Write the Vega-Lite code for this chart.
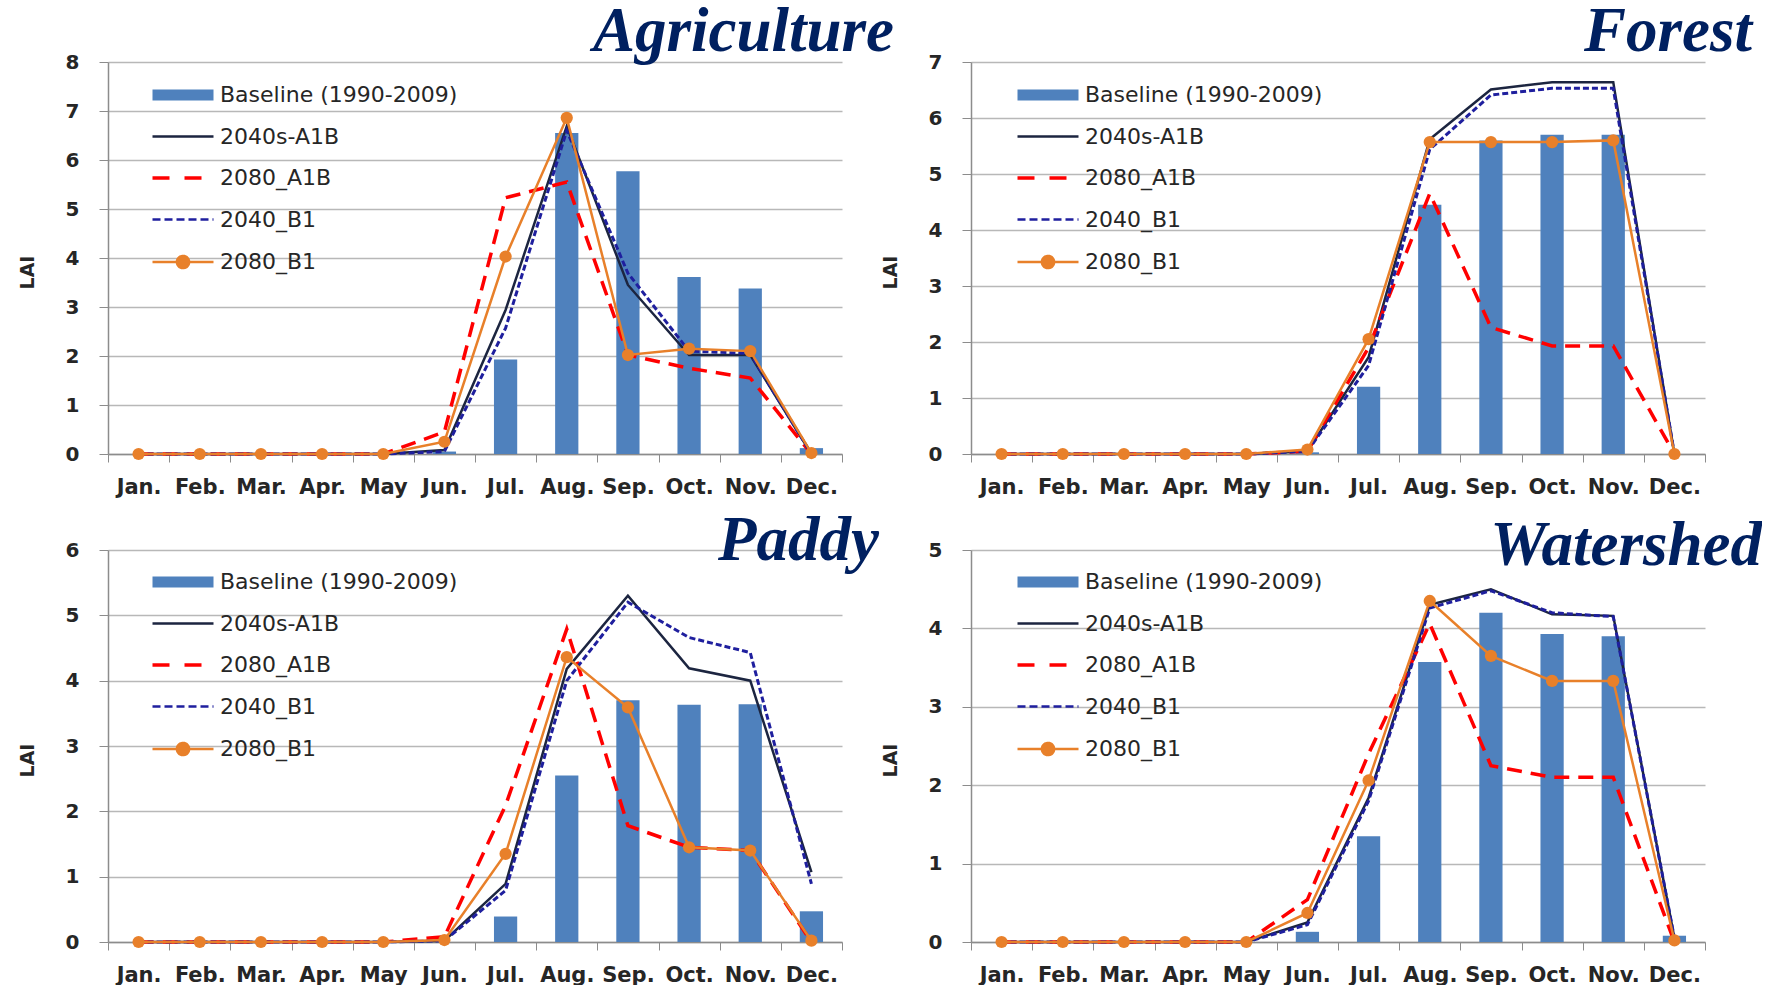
{
  "$schema": "https://vega.github.io/schema/vega-lite/v6.json",
  "background": "white",
  "autosize": {"type": "pad"},
  "padding": {"left": 18, "top": 1, "right": 0, "bottom": 0},
  "config": {
    "view": {"stroke": null},
    "font": "DejaVu Sans",
    "axis": {
      "labelFont": "DejaVu Sans", "labelFontWeight": "bold", "labelFontSize": 20, "labelColor": "#262626",
      "domainColor": "#8c8c8c", "tickColor": "#8c8c8c", "gridColor": "#b8b8b8", "gridWidth": 1.5,
      "titleFont": "DejaVu Sans", "titleFontWeight": "bold", "titleFontSize": 19, "titleColor": "#262626"
    },
    "axisX": {"grid": false, "tickSize": 8, "labelPadding": 14, "domainWidth": 1.5, "labelAngle": 0, "labelOverlap": false, "labelFontSize": 21, "title": null},
    "axisY": {"grid": true, "tickSize": 9, "labelPadding": 20, "domainWidth": 1.5, "titlePadding": 28, "titleY": 210},
    "legend": {"padding": 0, "labelFont": "DejaVu Sans", "labelFontSize": 22, "labelColor": "#262626", "labelLimit": 400, "symbolSize": 3721, "symbolType": "stroke", "rowPadding": 19.5, "labelOffset": 26, "symbolOffset": 21, "symbolStrokeWidth": 2.5},
    "title": {"font": "Liberation Serif", "fontSize": 63, "fontStyle": "italic", "fontWeight": "bold", "color": "#002060", "anchor": "end", "frame": "group", "baseline": "alphabetic", "offset": 0}
  },
  "data": {"values": [
    {"panel":"Agriculture","series":"Baseline (1990-2009)","month":"Jan.","lai":0},{"panel":"Agriculture","series":"Baseline (1990-2009)","month":"Feb.","lai":0},{"panel":"Agriculture","series":"Baseline (1990-2009)","month":"Mar.","lai":0},{"panel":"Agriculture","series":"Baseline (1990-2009)","month":"Apr.","lai":0},{"panel":"Agriculture","series":"Baseline (1990-2009)","month":"May","lai":0},{"panel":"Agriculture","series":"Baseline (1990-2009)","month":"Jun.","lai":0.05},{"panel":"Agriculture","series":"Baseline (1990-2009)","month":"Jul.","lai":1.93},{"panel":"Agriculture","series":"Baseline (1990-2009)","month":"Aug.","lai":6.55},{"panel":"Agriculture","series":"Baseline (1990-2009)","month":"Sep.","lai":5.77},{"panel":"Agriculture","series":"Baseline (1990-2009)","month":"Oct.","lai":3.61},{"panel":"Agriculture","series":"Baseline (1990-2009)","month":"Nov.","lai":3.38},{"panel":"Agriculture","series":"Baseline (1990-2009)","month":"Dec.","lai":0.12},
    {"panel":"Agriculture","series":"2040s-A1B","month":"Jan.","lai":0},{"panel":"Agriculture","series":"2040s-A1B","month":"Feb.","lai":0},{"panel":"Agriculture","series":"2040s-A1B","month":"Mar.","lai":0},{"panel":"Agriculture","series":"2040s-A1B","month":"Apr.","lai":0},{"panel":"Agriculture","series":"2040s-A1B","month":"May","lai":0},{"panel":"Agriculture","series":"2040s-A1B","month":"Jun.","lai":0.08},{"panel":"Agriculture","series":"2040s-A1B","month":"Jul.","lai":2.94},{"panel":"Agriculture","series":"2040s-A1B","month":"Aug.","lai":6.69},{"panel":"Agriculture","series":"2040s-A1B","month":"Sep.","lai":3.45},{"panel":"Agriculture","series":"2040s-A1B","month":"Oct.","lai":2.02},{"panel":"Agriculture","series":"2040s-A1B","month":"Nov.","lai":2.02},{"panel":"Agriculture","series":"2040s-A1B","month":"Dec.","lai":0},
    {"panel":"Agriculture","series":"2080_A1B","month":"Jan.","lai":0},{"panel":"Agriculture","series":"2080_A1B","month":"Feb.","lai":0},{"panel":"Agriculture","series":"2080_A1B","month":"Mar.","lai":0},{"panel":"Agriculture","series":"2080_A1B","month":"Apr.","lai":0},{"panel":"Agriculture","series":"2080_A1B","month":"May","lai":0},{"panel":"Agriculture","series":"2080_A1B","month":"Jun.","lai":0.45},{"panel":"Agriculture","series":"2080_A1B","month":"Jul.","lai":5.23},{"panel":"Agriculture","series":"2080_A1B","month":"Aug.","lai":5.55},{"panel":"Agriculture","series":"2080_A1B","month":"Sep.","lai":2.02},{"panel":"Agriculture","series":"2080_A1B","month":"Oct.","lai":1.75},{"panel":"Agriculture","series":"2080_A1B","month":"Nov.","lai":1.55},{"panel":"Agriculture","series":"2080_A1B","month":"Dec.","lai":0},
    {"panel":"Agriculture","series":"2040_B1","month":"Jan.","lai":0},{"panel":"Agriculture","series":"2040_B1","month":"Feb.","lai":0},{"panel":"Agriculture","series":"2040_B1","month":"Mar.","lai":0},{"panel":"Agriculture","series":"2040_B1","month":"Apr.","lai":0},{"panel":"Agriculture","series":"2040_B1","month":"May","lai":0},{"panel":"Agriculture","series":"2040_B1","month":"Jun.","lai":0.05},{"panel":"Agriculture","series":"2040_B1","month":"Jul.","lai":2.57},{"panel":"Agriculture","series":"2040_B1","month":"Aug.","lai":6.6},{"panel":"Agriculture","series":"2040_B1","month":"Sep.","lai":3.69},{"panel":"Agriculture","series":"2040_B1","month":"Oct.","lai":2.1},{"panel":"Agriculture","series":"2040_B1","month":"Nov.","lai":2.05},{"panel":"Agriculture","series":"2040_B1","month":"Dec.","lai":0},
    {"panel":"Agriculture","series":"2080_B1","month":"Jan.","lai":0},{"panel":"Agriculture","series":"2080_B1","month":"Feb.","lai":0},{"panel":"Agriculture","series":"2080_B1","month":"Mar.","lai":0},{"panel":"Agriculture","series":"2080_B1","month":"Apr.","lai":0},{"panel":"Agriculture","series":"2080_B1","month":"May","lai":0},{"panel":"Agriculture","series":"2080_B1","month":"Jun.","lai":0.25},{"panel":"Agriculture","series":"2080_B1","month":"Jul.","lai":4.03},{"panel":"Agriculture","series":"2080_B1","month":"Aug.","lai":6.86},{"panel":"Agriculture","series":"2080_B1","month":"Sep.","lai":2.02},{"panel":"Agriculture","series":"2080_B1","month":"Oct.","lai":2.15},{"panel":"Agriculture","series":"2080_B1","month":"Nov.","lai":2.1},{"panel":"Agriculture","series":"2080_B1","month":"Dec.","lai":0.02},

    {"panel":"Forest","series":"Baseline (1990-2009)","month":"Jan.","lai":0},{"panel":"Forest","series":"Baseline (1990-2009)","month":"Feb.","lai":0},{"panel":"Forest","series":"Baseline (1990-2009)","month":"Mar.","lai":0},{"panel":"Forest","series":"Baseline (1990-2009)","month":"Apr.","lai":0},{"panel":"Forest","series":"Baseline (1990-2009)","month":"May","lai":0},{"panel":"Forest","series":"Baseline (1990-2009)","month":"Jun.","lai":0.03},{"panel":"Forest","series":"Baseline (1990-2009)","month":"Jul.","lai":1.2},{"panel":"Forest","series":"Baseline (1990-2009)","month":"Aug.","lai":4.45},{"panel":"Forest","series":"Baseline (1990-2009)","month":"Sep.","lai":5.6},{"panel":"Forest","series":"Baseline (1990-2009)","month":"Oct.","lai":5.7},{"panel":"Forest","series":"Baseline (1990-2009)","month":"Nov.","lai":5.7},{"panel":"Forest","series":"Baseline (1990-2009)","month":"Dec.","lai":0},
    {"panel":"Forest","series":"2040s-A1B","month":"Jan.","lai":0},{"panel":"Forest","series":"2040s-A1B","month":"Feb.","lai":0},{"panel":"Forest","series":"2040s-A1B","month":"Mar.","lai":0},{"panel":"Forest","series":"2040s-A1B","month":"Apr.","lai":0},{"panel":"Forest","series":"2040s-A1B","month":"May","lai":0},{"panel":"Forest","series":"2040s-A1B","month":"Jun.","lai":0.05},{"panel":"Forest","series":"2040s-A1B","month":"Jul.","lai":1.73},{"panel":"Forest","series":"2040s-A1B","month":"Aug.","lai":5.62},{"panel":"Forest","series":"2040s-A1B","month":"Sep.","lai":6.51},{"panel":"Forest","series":"2040s-A1B","month":"Oct.","lai":6.64},{"panel":"Forest","series":"2040s-A1B","month":"Nov.","lai":6.64},{"panel":"Forest","series":"2040s-A1B","month":"Dec.","lai":0},
    {"panel":"Forest","series":"2080_A1B","month":"Jan.","lai":0},{"panel":"Forest","series":"2080_A1B","month":"Feb.","lai":0},{"panel":"Forest","series":"2080_A1B","month":"Mar.","lai":0},{"panel":"Forest","series":"2080_A1B","month":"Apr.","lai":0},{"panel":"Forest","series":"2080_A1B","month":"May","lai":0},{"panel":"Forest","series":"2080_A1B","month":"Jun.","lai":0.05},{"panel":"Forest","series":"2080_A1B","month":"Jul.","lai":1.9},{"panel":"Forest","series":"2080_A1B","month":"Aug.","lai":4.65},{"panel":"Forest","series":"2080_A1B","month":"Sep.","lai":2.26},{"panel":"Forest","series":"2080_A1B","month":"Oct.","lai":1.93},{"panel":"Forest","series":"2080_A1B","month":"Nov.","lai":1.93},{"panel":"Forest","series":"2080_A1B","month":"Dec.","lai":0},
    {"panel":"Forest","series":"2040_B1","month":"Jan.","lai":0},{"panel":"Forest","series":"2040_B1","month":"Feb.","lai":0},{"panel":"Forest","series":"2040_B1","month":"Mar.","lai":0},{"panel":"Forest","series":"2040_B1","month":"Apr.","lai":0},{"panel":"Forest","series":"2040_B1","month":"May","lai":0},{"panel":"Forest","series":"2040_B1","month":"Jun.","lai":0.05},{"panel":"Forest","series":"2040_B1","month":"Jul.","lai":1.58},{"panel":"Forest","series":"2040_B1","month":"Aug.","lai":5.44},{"panel":"Forest","series":"2040_B1","month":"Sep.","lai":6.41},{"panel":"Forest","series":"2040_B1","month":"Oct.","lai":6.53},{"panel":"Forest","series":"2040_B1","month":"Nov.","lai":6.53},{"panel":"Forest","series":"2040_B1","month":"Dec.","lai":0},
    {"panel":"Forest","series":"2080_B1","month":"Jan.","lai":0},{"panel":"Forest","series":"2080_B1","month":"Feb.","lai":0},{"panel":"Forest","series":"2080_B1","month":"Mar.","lai":0},{"panel":"Forest","series":"2080_B1","month":"Apr.","lai":0},{"panel":"Forest","series":"2080_B1","month":"May","lai":0},{"panel":"Forest","series":"2080_B1","month":"Jun.","lai":0.08},{"panel":"Forest","series":"2080_B1","month":"Jul.","lai":2.05},{"panel":"Forest","series":"2080_B1","month":"Aug.","lai":5.57},{"panel":"Forest","series":"2080_B1","month":"Sep.","lai":5.57},{"panel":"Forest","series":"2080_B1","month":"Oct.","lai":5.57},{"panel":"Forest","series":"2080_B1","month":"Nov.","lai":5.6},{"panel":"Forest","series":"2080_B1","month":"Dec.","lai":0},

    {"panel":"Paddy","series":"Baseline (1990-2009)","month":"Jan.","lai":0},{"panel":"Paddy","series":"Baseline (1990-2009)","month":"Feb.","lai":0},{"panel":"Paddy","series":"Baseline (1990-2009)","month":"Mar.","lai":0},{"panel":"Paddy","series":"Baseline (1990-2009)","month":"Apr.","lai":0},{"panel":"Paddy","series":"Baseline (1990-2009)","month":"May","lai":0},{"panel":"Paddy","series":"Baseline (1990-2009)","month":"Jun.","lai":0},{"panel":"Paddy","series":"Baseline (1990-2009)","month":"Jul.","lai":0.39},{"panel":"Paddy","series":"Baseline (1990-2009)","month":"Aug.","lai":2.55},{"panel":"Paddy","series":"Baseline (1990-2009)","month":"Sep.","lai":3.7},{"panel":"Paddy","series":"Baseline (1990-2009)","month":"Oct.","lai":3.63},{"panel":"Paddy","series":"Baseline (1990-2009)","month":"Nov.","lai":3.64},{"panel":"Paddy","series":"Baseline (1990-2009)","month":"Dec.","lai":0.47},
    {"panel":"Paddy","series":"2040s-A1B","month":"Jan.","lai":0},{"panel":"Paddy","series":"2040s-A1B","month":"Feb.","lai":0},{"panel":"Paddy","series":"2040s-A1B","month":"Mar.","lai":0},{"panel":"Paddy","series":"2040s-A1B","month":"Apr.","lai":0},{"panel":"Paddy","series":"2040s-A1B","month":"May","lai":0},{"panel":"Paddy","series":"2040s-A1B","month":"Jun.","lai":0.02},{"panel":"Paddy","series":"2040s-A1B","month":"Jul.","lai":0.89},{"panel":"Paddy","series":"2040s-A1B","month":"Aug.","lai":4.18},{"panel":"Paddy","series":"2040s-A1B","month":"Sep.","lai":5.3},{"panel":"Paddy","series":"2040s-A1B","month":"Oct.","lai":4.19},{"panel":"Paddy","series":"2040s-A1B","month":"Nov.","lai":4.0},{"panel":"Paddy","series":"2040s-A1B","month":"Dec.","lai":1.07},
    {"panel":"Paddy","series":"2080_A1B","month":"Jan.","lai":0},{"panel":"Paddy","series":"2080_A1B","month":"Feb.","lai":0},{"panel":"Paddy","series":"2080_A1B","month":"Mar.","lai":0},{"panel":"Paddy","series":"2080_A1B","month":"Apr.","lai":0},{"panel":"Paddy","series":"2080_A1B","month":"May","lai":0},{"panel":"Paddy","series":"2080_A1B","month":"Jun.","lai":0.08},{"panel":"Paddy","series":"2080_A1B","month":"Jul.","lai":2.09},{"panel":"Paddy","series":"2080_A1B","month":"Aug.","lai":4.79},{"panel":"Paddy","series":"2080_A1B","month":"Sep.","lai":1.78},{"panel":"Paddy","series":"2080_A1B","month":"Oct.","lai":1.45},{"panel":"Paddy","series":"2080_A1B","month":"Nov.","lai":1.4},{"panel":"Paddy","series":"2080_A1B","month":"Dec.","lai":0},
    {"panel":"Paddy","series":"2040_B1","month":"Jan.","lai":0},{"panel":"Paddy","series":"2040_B1","month":"Feb.","lai":0},{"panel":"Paddy","series":"2040_B1","month":"Mar.","lai":0},{"panel":"Paddy","series":"2040_B1","month":"Apr.","lai":0},{"panel":"Paddy","series":"2040_B1","month":"May","lai":0},{"panel":"Paddy","series":"2040_B1","month":"Jun.","lai":0.02},{"panel":"Paddy","series":"2040_B1","month":"Jul.","lai":0.79},{"panel":"Paddy","series":"2040_B1","month":"Aug.","lai":4.0},{"panel":"Paddy","series":"2040_B1","month":"Sep.","lai":5.2},{"panel":"Paddy","series":"2040_B1","month":"Oct.","lai":4.66},{"panel":"Paddy","series":"2040_B1","month":"Nov.","lai":4.43},{"panel":"Paddy","series":"2040_B1","month":"Dec.","lai":0.89},
    {"panel":"Paddy","series":"2080_B1","month":"Jan.","lai":0},{"panel":"Paddy","series":"2080_B1","month":"Feb.","lai":0},{"panel":"Paddy","series":"2080_B1","month":"Mar.","lai":0},{"panel":"Paddy","series":"2080_B1","month":"Apr.","lai":0},{"panel":"Paddy","series":"2080_B1","month":"May","lai":0},{"panel":"Paddy","series":"2080_B1","month":"Jun.","lai":0.03},{"panel":"Paddy","series":"2080_B1","month":"Jul.","lai":1.35},{"panel":"Paddy","series":"2080_B1","month":"Aug.","lai":4.36},{"panel":"Paddy","series":"2080_B1","month":"Sep.","lai":3.59},{"panel":"Paddy","series":"2080_B1","month":"Oct.","lai":1.45},{"panel":"Paddy","series":"2080_B1","month":"Nov.","lai":1.4},{"panel":"Paddy","series":"2080_B1","month":"Dec.","lai":0.02},

    {"panel":"Watershed","series":"Baseline (1990-2009)","month":"Jan.","lai":0},{"panel":"Watershed","series":"Baseline (1990-2009)","month":"Feb.","lai":0},{"panel":"Watershed","series":"Baseline (1990-2009)","month":"Mar.","lai":0},{"panel":"Watershed","series":"Baseline (1990-2009)","month":"Apr.","lai":0},{"panel":"Watershed","series":"Baseline (1990-2009)","month":"May","lai":0},{"panel":"Watershed","series":"Baseline (1990-2009)","month":"Jun.","lai":0.13},{"panel":"Watershed","series":"Baseline (1990-2009)","month":"Jul.","lai":1.35},{"panel":"Watershed","series":"Baseline (1990-2009)","month":"Aug.","lai":3.57},{"panel":"Watershed","series":"Baseline (1990-2009)","month":"Sep.","lai":4.2},{"panel":"Watershed","series":"Baseline (1990-2009)","month":"Oct.","lai":3.93},{"panel":"Watershed","series":"Baseline (1990-2009)","month":"Nov.","lai":3.9},{"panel":"Watershed","series":"Baseline (1990-2009)","month":"Dec.","lai":0.08},
    {"panel":"Watershed","series":"2040s-A1B","month":"Jan.","lai":0},{"panel":"Watershed","series":"2040s-A1B","month":"Feb.","lai":0},{"panel":"Watershed","series":"2040s-A1B","month":"Mar.","lai":0},{"panel":"Watershed","series":"2040s-A1B","month":"Apr.","lai":0},{"panel":"Watershed","series":"2040s-A1B","month":"May","lai":0},{"panel":"Watershed","series":"2040s-A1B","month":"Jun.","lai":0.25},{"panel":"Watershed","series":"2040s-A1B","month":"Jul.","lai":1.84},{"panel":"Watershed","series":"2040s-A1B","month":"Aug.","lai":4.3},{"panel":"Watershed","series":"2040s-A1B","month":"Sep.","lai":4.5},{"panel":"Watershed","series":"2040s-A1B","month":"Oct.","lai":4.18},{"panel":"Watershed","series":"2040s-A1B","month":"Nov.","lai":4.16},{"panel":"Watershed","series":"2040s-A1B","month":"Dec.","lai":0.05},
    {"panel":"Watershed","series":"2080_A1B","month":"Jan.","lai":0},{"panel":"Watershed","series":"2080_A1B","month":"Feb.","lai":0},{"panel":"Watershed","series":"2080_A1B","month":"Mar.","lai":0},{"panel":"Watershed","series":"2080_A1B","month":"Apr.","lai":0},{"panel":"Watershed","series":"2080_A1B","month":"May","lai":0},{"panel":"Watershed","series":"2080_A1B","month":"Jun.","lai":0.54},{"panel":"Watershed","series":"2080_A1B","month":"Jul.","lai":2.4},{"panel":"Watershed","series":"2080_A1B","month":"Aug.","lai":4.06},{"panel":"Watershed","series":"2080_A1B","month":"Sep.","lai":2.25},{"panel":"Watershed","series":"2080_A1B","month":"Oct.","lai":2.1},{"panel":"Watershed","series":"2080_A1B","month":"Nov.","lai":2.1},{"panel":"Watershed","series":"2080_A1B","month":"Dec.","lai":0},
    {"panel":"Watershed","series":"2040_B1","month":"Jan.","lai":0},{"panel":"Watershed","series":"2040_B1","month":"Feb.","lai":0},{"panel":"Watershed","series":"2040_B1","month":"Mar.","lai":0},{"panel":"Watershed","series":"2040_B1","month":"Apr.","lai":0},{"panel":"Watershed","series":"2040_B1","month":"May","lai":0},{"panel":"Watershed","series":"2040_B1","month":"Jun.","lai":0.22},{"panel":"Watershed","series":"2040_B1","month":"Jul.","lai":1.8},{"panel":"Watershed","series":"2040_B1","month":"Aug.","lai":4.26},{"panel":"Watershed","series":"2040_B1","month":"Sep.","lai":4.48},{"panel":"Watershed","series":"2040_B1","month":"Oct.","lai":4.2},{"panel":"Watershed","series":"2040_B1","month":"Nov.","lai":4.15},{"panel":"Watershed","series":"2040_B1","month":"Dec.","lai":0.05},
    {"panel":"Watershed","series":"2080_B1","month":"Jan.","lai":0},{"panel":"Watershed","series":"2080_B1","month":"Feb.","lai":0},{"panel":"Watershed","series":"2080_B1","month":"Mar.","lai":0},{"panel":"Watershed","series":"2080_B1","month":"Apr.","lai":0},{"panel":"Watershed","series":"2080_B1","month":"May","lai":0},{"panel":"Watershed","series":"2080_B1","month":"Jun.","lai":0.37},{"panel":"Watershed","series":"2080_B1","month":"Jul.","lai":2.06},{"panel":"Watershed","series":"2080_B1","month":"Aug.","lai":4.35},{"panel":"Watershed","series":"2080_B1","month":"Sep.","lai":3.65},{"panel":"Watershed","series":"2080_B1","month":"Oct.","lai":3.33},{"panel":"Watershed","series":"2080_B1","month":"Nov.","lai":3.33},{"panel":"Watershed","series":"2080_B1","month":"Dec.","lai":0.02}
  ]},
  "columns": 2,
  "spacing": {"row": 96, "column": 129},
  "bounds": "flush",
  "resolve": {"scale": {"x": "independent", "y": "independent", "color": "independent"}, "axis": {"x": "independent", "y": "independent"}, "legend": {"color": "independent"}},
  "concat": [
    {
      "width": 734, "height": 392,
      "title": {"text": "Agriculture", "dx": 52, "dy": 16},
      "transform": [{"filter": "datum.panel === 'Agriculture'"}],
      "encoding": {
        "x": {"field": "month", "type": "ordinal", "sort": ["Jan.","Feb.","Mar.","Apr.","May","Jun.","Jul.","Aug.","Sep.","Oct.","Nov.","Dec."], "scale": {"paddingInner": 0, "paddingOuter": 0}, "axis": {"tickBand": "extent"}},
        "y": {"field": "lai", "type": "quantitative", "scale": {"domain": [0, 8], "nice": false}, "axis": {"values": [0,1,2,3,4,5,6,7,8], "title": "LAI"}},
        "color": {"field": "series", "type": "nominal",
          "scale": {"domain": ["Baseline (1990-2009)","2040s-A1B","2080_A1B","2040_B1","2080_B1"], "range": ["#4f81bd","#1c2540","#ff0000","#1f1f9e","#e8802a"]},
          "legend": {"title": null, "orient": "none", "legendX": 43, "legendY": 22,
            "encode": {"symbols": {"update": {
              "shape": {"signal": "datum.value === '2080_B1' ? 'M-1,0H1M0.2,0A0.2,0.2,0,1,1,-0.2,0A0.2,0.2,0,1,1,0.2,0Z' : datum.value === 'Baseline (1990-2009)' ? 'M-1,-0.18H1V0.18H-1Z' : 'stroke'"},
              "stroke": {"signal": "datum.value === 'Baseline (1990-2009)' ? 'transparent' : datum.value === '2040s-A1B' ? '#1c2540' : datum.value === '2080_A1B' ? '#ff0000' : datum.value === '2040_B1' ? '#1f1f9e' : '#e8802a'"},
              "fill": {"signal": "datum.value === '2080_B1' ? '#e8802a' : datum.value === 'Baseline (1990-2009)' ? '#4f81bd' : 'transparent'"},
              "strokeWidth": {"signal": "datum.value === 'Baseline (1990-2009)' ? 0 : datum.value === '2080_A1B' ? 3.5 : 2.5"},
              "strokeDash": {"signal": "datum.value === '2080_A1B' ? [17,15] : datum.value === '2040_B1' ? [8,4] : [1,0]"},
              "opacity": {"value": 1}}}}}}
      },
      "layer": [
        {"transform": [{"filter": "datum.series === 'Baseline (1990-2009)'"}], "mark": {"type": "bar", "width": {"band": 0.38}}},
        {"transform": [{"filter": "datum.series === '2040s-A1B'"}], "mark": {"type": "line", "strokeWidth": 2.5}},
        {"transform": [{"filter": "datum.series === '2080_A1B'"}], "mark": {"type": "line", "strokeWidth": 3.5, "strokeDash": [15, 9]}},
        {"transform": [{"filter": "datum.series === '2040_B1'"}], "mark": {"type": "line", "strokeWidth": 3, "strokeDash": [6, 3]}},
        {"transform": [{"filter": "datum.series === '2080_B1'"}], "mark": {"type": "line", "strokeWidth": 2.5, "point": {"filled": true, "size": 150}}}
      ]
    },
    {
      "width": 734, "height": 392,
      "title": {"text": "Forest", "dx": 47, "dy": 16},
      "transform": [{"filter": "datum.panel === 'Forest'"}],
      "encoding": {
        "x": {"field": "month", "type": "ordinal", "sort": ["Jan.","Feb.","Mar.","Apr.","May","Jun.","Jul.","Aug.","Sep.","Oct.","Nov.","Dec."], "scale": {"paddingInner": 0, "paddingOuter": 0}, "axis": {"tickBand": "extent"}},
        "y": {"field": "lai", "type": "quantitative", "scale": {"domain": [0, 7], "nice": false}, "axis": {"values": [0,1,2,3,4,5,6,7], "title": "LAI"}},
        "color": {"field": "series", "type": "nominal",
          "scale": {"domain": ["Baseline (1990-2009)","2040s-A1B","2080_A1B","2040_B1","2080_B1"], "range": ["#4f81bd","#1c2540","#ff0000","#1f1f9e","#e8802a"]},
          "legend": {"title": null, "orient": "none", "legendX": 45, "legendY": 22,
            "encode": {"symbols": {"update": {
              "shape": {"signal": "datum.value === '2080_B1' ? 'M-1,0H1M0.2,0A0.2,0.2,0,1,1,-0.2,0A0.2,0.2,0,1,1,0.2,0Z' : datum.value === 'Baseline (1990-2009)' ? 'M-1,-0.18H1V0.18H-1Z' : 'stroke'"},
              "stroke": {"signal": "datum.value === 'Baseline (1990-2009)' ? 'transparent' : datum.value === '2040s-A1B' ? '#1c2540' : datum.value === '2080_A1B' ? '#ff0000' : datum.value === '2040_B1' ? '#1f1f9e' : '#e8802a'"},
              "fill": {"signal": "datum.value === '2080_B1' ? '#e8802a' : datum.value === 'Baseline (1990-2009)' ? '#4f81bd' : 'transparent'"},
              "strokeWidth": {"signal": "datum.value === 'Baseline (1990-2009)' ? 0 : datum.value === '2080_A1B' ? 3.5 : 2.5"},
              "strokeDash": {"signal": "datum.value === '2080_A1B' ? [17,15] : datum.value === '2040_B1' ? [8,4] : [1,0]"},
              "opacity": {"value": 1}}}}}}
      },
      "layer": [
        {"transform": [{"filter": "datum.series === 'Baseline (1990-2009)'"}], "mark": {"type": "bar", "width": {"band": 0.38}}},
        {"transform": [{"filter": "datum.series === '2040s-A1B'"}], "mark": {"type": "line", "strokeWidth": 2.5}},
        {"transform": [{"filter": "datum.series === '2080_A1B'"}], "mark": {"type": "line", "strokeWidth": 3.5, "strokeDash": [15, 9]}},
        {"transform": [{"filter": "datum.series === '2040_B1'"}], "mark": {"type": "line", "strokeWidth": 3, "strokeDash": [6, 3]}},
        {"transform": [{"filter": "datum.series === '2080_B1'"}], "mark": {"type": "line", "strokeWidth": 2.5, "point": {"filled": true, "size": 150}}}
      ]
    },
    {
      "width": 734, "height": 392,
      "title": {"text": "Paddy", "dx": 37, "dy": 37},
      "transform": [{"filter": "datum.panel === 'Paddy'"}],
      "encoding": {
        "x": {"field": "month", "type": "ordinal", "sort": ["Jan.","Feb.","Mar.","Apr.","May","Jun.","Jul.","Aug.","Sep.","Oct.","Nov.","Dec."], "scale": {"paddingInner": 0, "paddingOuter": 0}, "axis": {"tickBand": "extent"}},
        "y": {"field": "lai", "type": "quantitative", "scale": {"domain": [0, 6], "nice": false}, "axis": {"values": [0,1,2,3,4,5,6], "title": "LAI"}},
        "color": {"field": "series", "type": "nominal",
          "scale": {"domain": ["Baseline (1990-2009)","2040s-A1B","2080_A1B","2040_B1","2080_B1"], "range": ["#4f81bd","#1c2540","#ff0000","#1f1f9e","#e8802a"]},
          "legend": {"title": null, "orient": "none", "legendX": 43, "legendY": 21,
            "encode": {"symbols": {"update": {
              "shape": {"signal": "datum.value === '2080_B1' ? 'M-1,0H1M0.2,0A0.2,0.2,0,1,1,-0.2,0A0.2,0.2,0,1,1,0.2,0Z' : datum.value === 'Baseline (1990-2009)' ? 'M-1,-0.18H1V0.18H-1Z' : 'stroke'"},
              "stroke": {"signal": "datum.value === 'Baseline (1990-2009)' ? 'transparent' : datum.value === '2040s-A1B' ? '#1c2540' : datum.value === '2080_A1B' ? '#ff0000' : datum.value === '2040_B1' ? '#1f1f9e' : '#e8802a'"},
              "fill": {"signal": "datum.value === '2080_B1' ? '#e8802a' : datum.value === 'Baseline (1990-2009)' ? '#4f81bd' : 'transparent'"},
              "strokeWidth": {"signal": "datum.value === 'Baseline (1990-2009)' ? 0 : datum.value === '2080_A1B' ? 3.5 : 2.5"},
              "strokeDash": {"signal": "datum.value === '2080_A1B' ? [17,15] : datum.value === '2040_B1' ? [8,4] : [1,0]"},
              "opacity": {"value": 1}}}}}}
      },
      "layer": [
        {"transform": [{"filter": "datum.series === 'Baseline (1990-2009)'"}], "mark": {"type": "bar", "width": {"band": 0.38}}},
        {"transform": [{"filter": "datum.series === '2040s-A1B'"}], "mark": {"type": "line", "strokeWidth": 2.5}},
        {"transform": [{"filter": "datum.series === '2080_A1B'"}], "mark": {"type": "line", "strokeWidth": 3.5, "strokeDash": [15, 9]}},
        {"transform": [{"filter": "datum.series === '2040_B1'"}], "mark": {"type": "line", "strokeWidth": 3, "strokeDash": [6, 3]}},
        {"transform": [{"filter": "datum.series === '2080_B1'"}], "mark": {"type": "line", "strokeWidth": 2.5, "point": {"filled": true, "size": 150}}}
      ]
    },
    {
      "width": 734, "height": 392,
      "title": {"text": "Watershed", "dx": 57, "dy": 42},
      "transform": [{"filter": "datum.panel === 'Watershed'"}],
      "encoding": {
        "x": {"field": "month", "type": "ordinal", "sort": ["Jan.","Feb.","Mar.","Apr.","May","Jun.","Jul.","Aug.","Sep.","Oct.","Nov.","Dec."], "scale": {"paddingInner": 0, "paddingOuter": 0}, "axis": {"tickBand": "extent"}},
        "y": {"field": "lai", "type": "quantitative", "scale": {"domain": [0, 5], "nice": false}, "axis": {"values": [0,1,2,3,4,5], "title": "LAI"}},
        "color": {"field": "series", "type": "nominal",
          "scale": {"domain": ["Baseline (1990-2009)","2040s-A1B","2080_A1B","2040_B1","2080_B1"], "range": ["#4f81bd","#1c2540","#ff0000","#1f1f9e","#e8802a"]},
          "legend": {"title": null, "orient": "none", "legendX": 45, "legendY": 21,
            "encode": {"symbols": {"update": {
              "shape": {"signal": "datum.value === '2080_B1' ? 'M-1,0H1M0.2,0A0.2,0.2,0,1,1,-0.2,0A0.2,0.2,0,1,1,0.2,0Z' : datum.value === 'Baseline (1990-2009)' ? 'M-1,-0.18H1V0.18H-1Z' : 'stroke'"},
              "stroke": {"signal": "datum.value === 'Baseline (1990-2009)' ? 'transparent' : datum.value === '2040s-A1B' ? '#1c2540' : datum.value === '2080_A1B' ? '#ff0000' : datum.value === '2040_B1' ? '#1f1f9e' : '#e8802a'"},
              "fill": {"signal": "datum.value === '2080_B1' ? '#e8802a' : datum.value === 'Baseline (1990-2009)' ? '#4f81bd' : 'transparent'"},
              "strokeWidth": {"signal": "datum.value === 'Baseline (1990-2009)' ? 0 : datum.value === '2080_A1B' ? 3.5 : 2.5"},
              "strokeDash": {"signal": "datum.value === '2080_A1B' ? [17,15] : datum.value === '2040_B1' ? [8,4] : [1,0]"},
              "opacity": {"value": 1}}}}}}
      },
      "layer": [
        {"transform": [{"filter": "datum.series === 'Baseline (1990-2009)'"}], "mark": {"type": "bar", "width": {"band": 0.38}}},
        {"transform": [{"filter": "datum.series === '2040s-A1B'"}], "mark": {"type": "line", "strokeWidth": 2.5}},
        {"transform": [{"filter": "datum.series === '2080_A1B'"}], "mark": {"type": "line", "strokeWidth": 3.5, "strokeDash": [15, 9]}},
        {"transform": [{"filter": "datum.series === '2040_B1'"}], "mark": {"type": "line", "strokeWidth": 3, "strokeDash": [6, 3]}},
        {"transform": [{"filter": "datum.series === '2080_B1'"}], "mark": {"type": "line", "strokeWidth": 2.5, "point": {"filled": true, "size": 150}}}
      ]
    }
  ]
}
